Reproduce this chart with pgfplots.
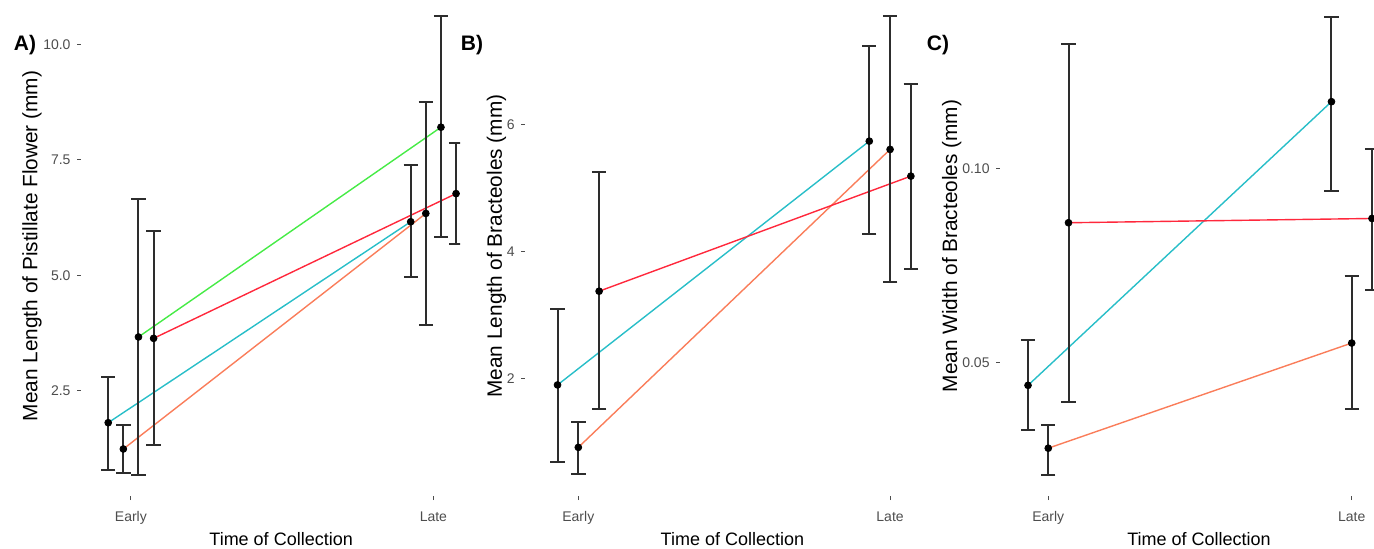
\documentclass[border=0pt]{standalone}
\usepackage{fontspec}
\setmainfont{Liberation Sans}
\usepackage{pgfplots}
\usepackage{pgfplotstable}
\pgfplotsset{compat=1.18}
\definecolor{cyanl}{RGB}{40,190,200}
\definecolor{salmon}{RGB}{250,125,90}
\definecolor{limeg}{RGB}{70,235,70}
\definecolor{redl}{RGB}{255,40,60}
\definecolor{tickgrey}{RGB}{77,77,77}
\definecolor{errgrey}{RGB}{45,45,45}

\pgfplotsset{
  panel/.style={
    scale only axis,
    height=248pt,
    axis lines*=left,
    axis line style={draw=none},
    tick align=outside,
    major tick length=2pt,
    tick style={tickgrey, line width=0.5pt},
    xtick={1,2}, xticklabels={Early,Late},
    xticklabel style={anchor=base, yshift=-10.5pt},
    yticklabel style={xshift=0.3pt},
    ticklabel style={font=\fontsize{7}{8}\selectfont, text=tickgrey},
    xlabel style={font=\fontsize{9}{10}\selectfont},
    ylabel style={font=\fontsize{10.4}{11}\selectfont},
    xlabel={Time of Collection},
  },
  conn/.style={line width=0.7pt, no marks},
  ebars/.style={
    draw=none, mark=*, mark options={black, mark size=1.7pt},
    error bars/.cd, y dir=both, y explicit,
    error bar style={errgrey, line width=1pt},
    error mark options={rotate=90, errgrey, line width=1pt, mark size=3.6pt},
  },
}

\pgfplotstableread{
x     y     lo    hi
0.925 1.80  0.77  2.80
0.975 1.23  0.71  1.75
1.025 3.66  0.67  6.65
1.075 3.63  1.32  5.96
1.925 6.16  4.96  7.39
1.975 6.34  3.91  8.76
2.025 8.21  5.83  10.63
2.075 6.77  5.67  7.87
}\dataA

\pgfplotstableread{
x      y     lo    hi
0.9333 1.906 0.70  3.10
1.0    0.924 0.50  1.33
1.0667 3.38  1.53  5.26
1.9333 5.74  4.28  7.24
2.0    5.61  3.52  7.71
2.0667 5.19  3.73  6.64
}\dataB

\pgfplotstableread{
x      y      lo     hi
0.9333 0.0441 0.0326 0.0557
1.0    0.0279 0.0211 0.0340
1.0667 0.0860 0.0397 0.1321
1.9333 0.1172 0.0943 0.1391
2.0    0.0550 0.0379 0.0722
2.0667 0.0871 0.0686 0.1050
}\dataC

\begin{document}
\begin{tikzpicture}
\path[use as bounding box] (0,0) rectangle (687pt,274pt);

% A) pistillate flower length
\begin{axis}[panel,
  at={(40.5pt,26pt)}, anchor=south west, width=189.5pt,
  xmin=0.835, xmax=2.088, ymin=0.21, ymax=10.97,
  ytick={2.5,5,7.5,10}, yticklabels={2.5,5.0,7.5,10.0},
  ylabel={Mean Length of Pistillate Flower (mm)},
  ylabel style={at={(axis description cs:-0.1293,0.504)}, anchor=center},
  xlabel style={at={(axis description cs:0.528,-0.0988)}, anchor=base},
]
\addplot[conn, cyanl] coordinates {(0.925,1.80) (1.925,6.16)};
\addplot[conn, salmon] coordinates {(0.975,1.23) (1.975,6.34)};
\addplot[conn, limeg] coordinates {(1.025,3.66) (2.025,8.21)};
\addplot[conn, redl] coordinates {(1.075,3.63) (2.075,6.77)};
\addplot[ebars] table[x=x, y=y,
  y error plus expr=\thisrow{hi}-\thisrow{y},
  y error minus expr=\thisrow{y}-\thisrow{lo}] {\dataA};
\end{axis}

% B) bracteole length
\begin{axis}[panel,
  at={(262.5pt,26pt)}, anchor=south west, width=197.5pt,
  xmin=0.829, xmax=2.096, ymin=0.159, ymax=7.96,
  ytick={2,4,6}, yticklabels={2,4,6},
  ylabel={Mean Length of Bracteoles (mm)},
  ylabel style={at={(axis description cs:-0.0719,0.504)}, anchor=center},
  xlabel style={at={(axis description cs:0.525,-0.0988)}, anchor=base},
]
\addplot[conn, cyanl] coordinates {(0.9333,1.906) (1.9333,5.74)};
\addplot[conn, salmon] coordinates {(1.0,0.924) (2.0,5.61)};
\addplot[conn, redl] coordinates {(1.0667,3.38) (2.0667,5.19)};
\addplot[ebars] table[x=x, y=y,
  y error plus expr=\thisrow{hi}-\thisrow{y},
  y error minus expr=\thisrow{y}-\thisrow{lo}] {\dataB};
\end{axis}

% C) bracteole width
\begin{axis}[panel,
  at={(500pt,26pt)}, anchor=south west, width=187pt,
  xmin=0.841, xmax=2.0735, ymin=0.01558, ymax=0.1434,
  ytick={0.05,0.10}, yticklabels={0.05,0.10},
  ylabel={Mean Width of Bracteoles (mm)},
  ylabel style={at={(axis description cs:-0.1294,0.504)}, anchor=center},
  xlabel style={at={(axis description cs:0.532,-0.0988)}, anchor=base},
]
\addplot[conn, cyanl] coordinates {(0.9333,0.0441) (1.9333,0.1172)};
\addplot[conn, salmon] coordinates {(1.0,0.0279) (2.0,0.0550)};
\addplot[conn, redl] coordinates {(1.0667,0.0860) (2.0667,0.0871)};
\addplot[ebars] table[x=x, y=y,
  y error plus expr=\thisrow{hi}-\thisrow{y},
  y error minus expr=\thisrow{y}-\thisrow{lo}] {\dataC};
\end{axis}

\node[font=\fontsize{10.5}{12}\selectfont\bfseries] at (12.5pt,251.5pt) {A)};
\node[font=\fontsize{10.5}{12}\selectfont\bfseries] at (236pt,251.5pt) {B)};
\node[font=\fontsize{10.5}{12}\selectfont\bfseries] at (469pt,251.5pt) {C)};
\end{tikzpicture}
\end{document}
